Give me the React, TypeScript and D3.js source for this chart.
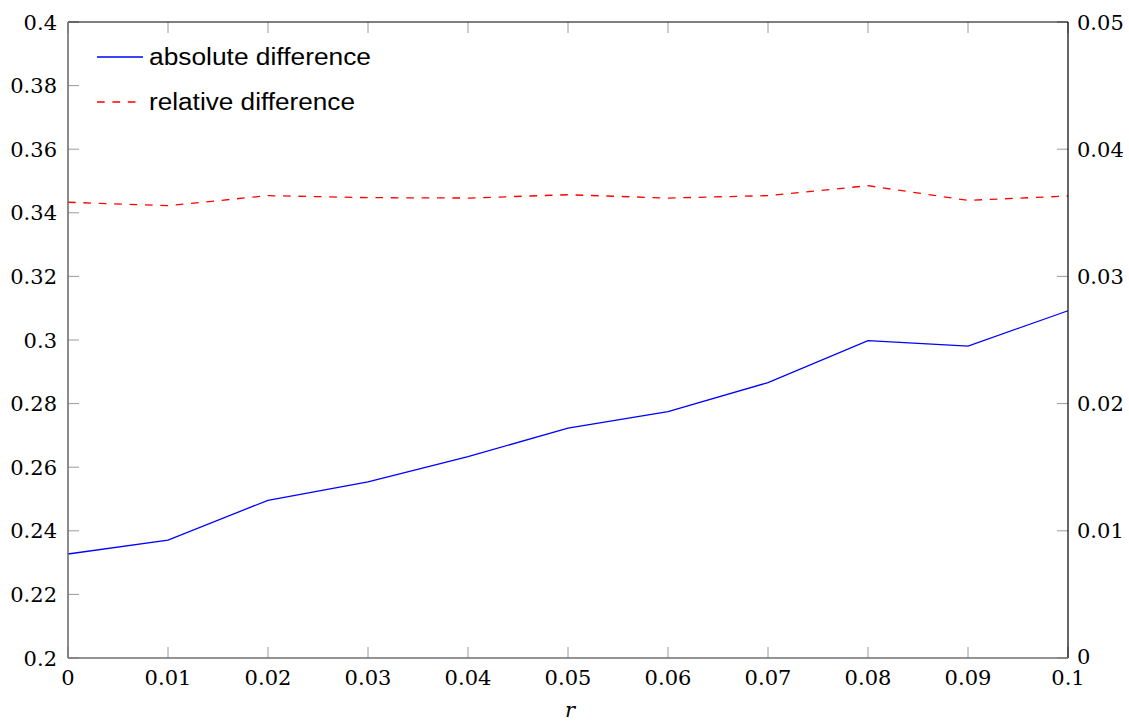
import React from "react";
import * as d3 from "d3";

// Sample points along r
const rValues = [0, 0.01, 0.02, 0.03, 0.04, 0.05, 0.06, 0.07, 0.08, 0.09, 0.1];
// Absolute difference (left axis)
const absoluteDiff = [0.2327, 0.2371, 0.2496, 0.2554, 0.2633, 0.2723, 0.2775, 0.2866, 0.2998, 0.2981, 0.3092];
// Relative difference (right axis)
const relativeDiff = [0.03583, 0.03556, 0.03635, 0.03619, 0.03616, 0.03642, 0.03616, 0.03635, 0.03713, 0.03598, 0.03632];

const xTicks = [0, 0.01, 0.02, 0.03, 0.04, 0.05, 0.06, 0.07, 0.08, 0.09, 0.1];
const xTickLabels = ["0", "0.01", "0.02", "0.03", "0.04", "0.05", "0.06", "0.07", "0.08", "0.09", "0.1"];
const leftTicks = [0.2, 0.22, 0.24, 0.26, 0.28, 0.3, 0.32, 0.34, 0.36, 0.38, 0.4];
const leftTickLabels = ["0.2", "0.22", "0.24", "0.26", "0.28", "0.3", "0.32", "0.34", "0.36", "0.38", "0.4"];
const rightTicks = [0, 0.01, 0.02, 0.03, 0.04, 0.05];
const rightTickLabels = ["0", "0.01", "0.02", "0.03", "0.04", "0.05"];

const seriesNames = ["absolute difference", "relative difference"];

const W = 1129;
const H = 722;
const plot = { left: 68, right: 1068, top: 22, bottom: 658 };
const serif = "DejaVu Serif";
const sans = "Liberation Sans";
const tickLen = 11;
const tickFont = 21;

export default function App() {
  const x = d3.scaleLinear().domain([0, 0.1]).range([plot.left, plot.right]);
  const yL = d3.scaleLinear().domain([0.2, 0.4]).range([plot.bottom, plot.top]);
  const yR = d3.scaleLinear().domain([0, 0.05]).range([plot.bottom, plot.top]);

  const absLine = d3
    .line<number>()
    .x((_, i) => x(rValues[i]))
    .y((d) => yL(d))(absoluteDiff) as string;
  const relLine = d3
    .line<number>()
    .x((_, i) => x(rValues[i]))
    .y((d) => yR(d))(relativeDiff) as string;

  const tickColor = "#9a9a9a";

  return (
    <svg
      width={W}
      height={H}
      style={{ position: "absolute", left: 0, top: 0, background: "#fff" }}
    >
      <rect x={0} y={0} width={W} height={H} fill="#fff" />

      {/* data lines */}
      <path d={absLine} fill="none" stroke="#0000ff" strokeWidth={1.3} />
      <path d={relLine} fill="none" stroke="#ff0000" strokeWidth={1.3} strokeDasharray="7.7 7.7" />

      {/* x ticks, bottom and top, pointing inward */}
      {xTicks.map((t, i) => (
        <g key={"xt" + i}>
          <line x1={x(t)} x2={x(t)} y1={plot.bottom} y2={plot.bottom - tickLen} stroke={tickColor} strokeWidth={1} />
          <line x1={x(t)} x2={x(t)} y1={plot.top} y2={plot.top + tickLen} stroke={tickColor} strokeWidth={1} />
          <text x={x(t)} y={685} textAnchor="middle" fontFamily={serif} fontSize={tickFont} fill="#000">
            {xTickLabels[i]}
          </text>
        </g>
      ))}

      {/* left ticks */}
      {leftTicks.map((t, i) => (
        <g key={"lt" + i}>
          <line x1={plot.left} x2={plot.left + tickLen} y1={yL(t)} y2={yL(t)} stroke={tickColor} strokeWidth={1} />
          <text x={57} y={yL(t)} dy="0.36em" textAnchor="end" fontFamily={serif} fontSize={tickFont} fill="#000">
            {leftTickLabels[i]}
          </text>
        </g>
      ))}

      {/* right ticks */}
      {rightTicks.map((t, i) => (
        <g key={"rt" + i}>
          <line x1={plot.right} x2={plot.right - tickLen} y1={yR(t)} y2={yR(t)} stroke={tickColor} strokeWidth={1} />
          <text
            x={1077}
            y={yR(t) - (t === 0 ? 2 : 0)}
            dy="0.36em"
            textAnchor="start"
            fontFamily={serif}
            fontSize={tickFont}
            fill="#000"
          >
            {rightTickLabels[i]}
          </text>
        </g>
      ))}

      {/* frame */}
      <line x1={plot.left} x2={plot.right} y1={plot.top} y2={plot.top} stroke="#000" strokeWidth={1.2} />
      <line x1={plot.right} x2={plot.right} y1={plot.top} y2={plot.bottom} stroke="#000" strokeWidth={1.2} />
      <line x1={plot.left} x2={plot.right} y1={plot.bottom} y2={plot.bottom} stroke="#6f6f6f" strokeWidth={1.6} />
      <line x1={plot.left} x2={plot.left} y1={plot.top} y2={plot.bottom} stroke="#6f6f6f" strokeWidth={1.6} />

      {/* axis label */}
      <text x={570} y={717} textAnchor="middle" fontFamily={serif} fontStyle="italic" fontSize={tickFont} fill="#000">
        r
      </text>

      {/* legend */}
      <line x1={97} x2={143} y1={57} y2={57} stroke="#0000ff" strokeWidth={1.3} />
      <text x={149} y={65} fontFamily={sans} fontSize={23} fill="#000" textLength={222} lengthAdjust="spacingAndGlyphs">
        {seriesNames[0]}
      </text>
      <line x1={97} x2={143} y1={102} y2={102} stroke="#ff0000" strokeWidth={1.3} strokeDasharray="7.7 7.7" />
      <text x={149} y={110} fontFamily={sans} fontSize={23} fill="#000" textLength={206} lengthAdjust="spacingAndGlyphs">
        {seriesNames[1]}
      </text>
    </svg>
  );
}
